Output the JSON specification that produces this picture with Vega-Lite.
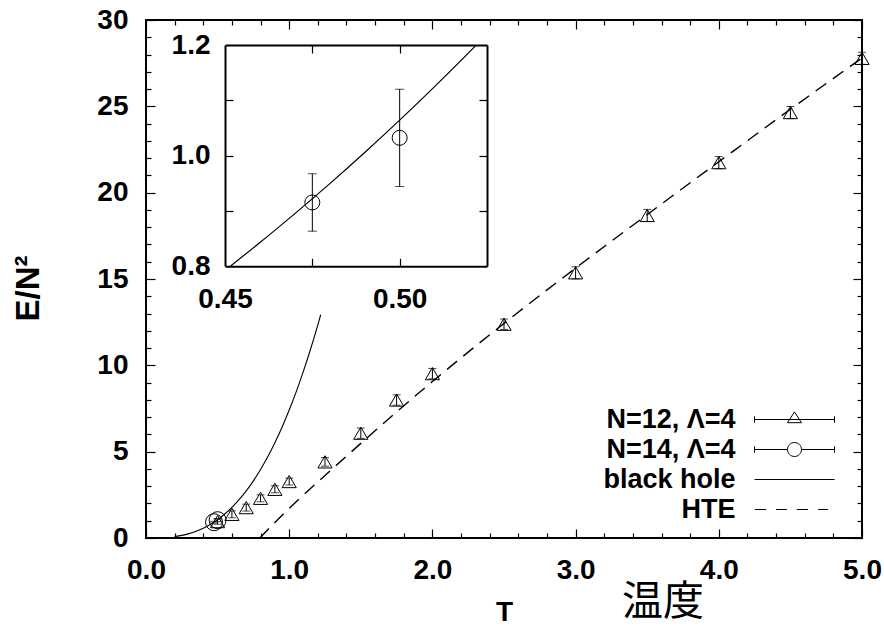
{
  "$schema": "https://vega.github.io/schema/vega-lite/v6.json",
  "width": 716,
  "height": 518,
  "autosize": {"type": "none"},
  "padding": {"left": 146, "top": 20, "right": 22, "bottom": 89},
  "background": "white",
  "config": {
    "view": {"stroke": "black", "strokeWidth": 2},
    "font": "Liberation Sans",
    "axis": {
      "grid": false,
      "labelFont": "Liberation Sans",
      "labelFontWeight": "bold",
      "labelFontSize": 28,
      "labelColor": "black",
      "labelFlush": false,
      "labelOverlap": false,
      "titleFont": "Liberation Sans",
      "titleColor": "black",
      "domainColor": "black",
      "domainWidth": 2,
      "tickColor": "black",
      "tickWidth": 1.2
    }
  },
  "title": {
    "text": "温度",
    "orient": "bottom",
    "anchor": "middle",
    "frame": "group",
    "dx": 159,
    "offset": -44,
    "baseline": "top",
    "font": "Noto Sans CJK JP",
    "fontSize": 41,
    "fontWeight": "normal",
    "color": "black"
  },
  "datasets": {
    "n12": [
      {"T": 0.5, "E": 0.95, "err": 0.15},
      {"T": 0.6, "E": 1.37, "err": 0.2},
      {"T": 0.7, "E": 1.76, "err": 0.2},
      {"T": 0.8, "E": 2.3, "err": 0.2},
      {"T": 0.9, "E": 2.82, "err": 0.2},
      {"T": 1.0, "E": 3.27, "err": 0.2},
      {"T": 1.25, "E": 4.41, "err": 0.25},
      {"T": 1.5, "E": 6.07, "err": 0.3},
      {"T": 1.75, "E": 7.99, "err": 0.3},
      {"T": 2.0, "E": 9.52, "err": 0.3},
      {"T": 2.5, "E": 12.38, "err": 0.3},
      {"T": 3.0, "E": 15.36, "err": 0.35},
      {"T": 3.5, "E": 18.68, "err": 0.35},
      {"T": 4.0, "E": 21.74, "err": 0.35},
      {"T": 4.5, "E": 24.64, "err": 0.35},
      {"T": 5.0, "E": 27.78, "err": 0.35}
    ],
    "n14": [
      {"T": 0.475, "E": 0.915, "err": 0.052},
      {"T": 0.5, "E": 1.032, "err": 0.088}
    ],
    "blackhole": [
      {"T": 0.2, "E": 0.082},
      {"T": 0.25, "E": 0.153},
      {"T": 0.3, "E": 0.255},
      {"T": 0.35, "E": 0.392},
      {"T": 0.4, "E": 0.57},
      {"T": 0.4516, "E": 0.8001},
      {"T": 0.46, "E": 0.8424},
      {"T": 0.47, "E": 0.8948},
      {"T": 0.48, "E": 0.9491},
      {"T": 0.49, "E": 1.0055},
      {"T": 0.5, "E": 1.064},
      {"T": 0.51, "E": 1.1247},
      {"T": 0.52, "E": 1.1875},
      {"T": 0.5219, "E": 1.1998},
      {"T": 0.55, "E": 1.389},
      {"T": 0.6, "E": 1.773},
      {"T": 0.65, "E": 2.218},
      {"T": 0.7, "E": 2.73},
      {"T": 0.75, "E": 3.311},
      {"T": 0.8, "E": 3.967},
      {"T": 0.85, "E": 4.701},
      {"T": 0.9, "E": 5.517},
      {"T": 0.95, "E": 6.419},
      {"T": 1.0, "E": 7.41},
      {"T": 1.05, "E": 8.495},
      {"T": 1.1, "E": 9.676},
      {"T": 1.15, "E": 10.959},
      {"T": 1.2, "E": 12.346},
      {"T": 1.22, "E": 12.931}
    ],
    "hte": [
      {"T": 0.795, "E": 0.0},
      {"T": 0.9, "E": 0.9},
      {"T": 1.0, "E": 1.72},
      {"T": 1.25, "E": 3.62},
      {"T": 1.5, "E": 5.48},
      {"T": 1.75, "E": 7.3},
      {"T": 2.0, "E": 9.06},
      {"T": 2.5, "E": 12.43},
      {"T": 3.0, "E": 15.63},
      {"T": 3.5, "E": 18.73},
      {"T": 4.0, "E": 21.79},
      {"T": 4.5, "E": 24.83},
      {"T": 5.0, "E": 27.8}
    ],
    "series": [
      {"series": "N=12, Λ=4"},
      {"series": "N=14, Λ=4"},
      {"series": "black hole"},
      {"series": "HTE"}
    ]
  },
  "layer": [
    {
      "layer": [
        {
          "data": {"name": "n12"},
          "mark": {"type": "point", "opacity": 0},
          "encoding": {
            "x": {
              "field": "T", "type": "quantitative",
              "scale": {"domain": [0, 5], "nice": false, "zero": false},
              "axis": {
                "orient": "bottom", "values": [0, 1, 2, 3, 4, 5], "format": ".1f",
                "ticks": false, "domain": false,
                "labelPadding": 40, "labelBaseline": "alphabetic",
                "title": "T", "titleFontSize": 28, "titleFontWeight": "bold",
                "titleY": 82.5, "titleBaseline": "alphabetic"
              }
            },
            "y": {
              "field": "E", "type": "quantitative",
              "scale": {"domain": [0, 30], "nice": false, "zero": false},
              "axis": {
                "orient": "left", "values": [0, 5, 10, 15, 20, 25, 30],
                "ticks": false, "domain": false,
                "labelPadding": 18, "labelBaseline": "middle",
                "title": "E/N²", "titleFontSize": 33, "titleFontWeight": "bold",
                "titleAngle": -90, "titleX": -118, "titleY": 268,
                "titleAlign": "center", "titleBaseline": "middle"
              }
            }
          }
        },
        {
          "data": {"name": "n12"},
          "mark": {"type": "point", "opacity": 0},
          "encoding": {
            "x": {
              "field": "T", "type": "quantitative",
              "scale": {"domain": [0, 5], "nice": false, "zero": false},
              "axis": {
                "orient": "bottom",
                "values": [0, 0.2, 0.4, 0.6, 0.8, 1, 1.2, 1.4, 1.6, 1.8, 2, 2.2, 2.4, 2.6, 2.8, 3, 3.2, 3.4, 3.6, 3.8, 4, 4.2, 4.4, 4.6, 4.8, 5],
                "labels": false, "domain": false, "title": null,
                "tickSize": {"condition": {"test": "abs(datum.value - round(datum.value)) < 0.001", "value": -9}, "value": -5}
              }
            },
            "y": {
              "field": "E", "type": "quantitative",
              "scale": {"domain": [0, 30], "nice": false, "zero": false},
              "axis": {
                "orient": "left",
                "values": [0, 1, 2, 3, 4, 5, 6, 7, 8, 9, 10, 11, 12, 13, 14, 15, 16, 17, 18, 19, 20, 21, 22, 23, 24, 25, 26, 27, 28, 29, 30],
                "labels": false, "domain": false, "title": null,
                "tickSize": {"condition": {"test": "datum.value % 5 === 0", "value": -9}, "value": -5}
              }
            }
          }
        },
        {
          "data": {"name": "n12"},
          "mark": {"type": "point", "opacity": 0},
          "encoding": {
            "x": {
              "field": "T", "type": "quantitative",
              "scale": {"domain": [0, 5], "nice": false, "zero": false},
              "axis": {
                "orient": "top",
                "values": [0, 0.2, 0.4, 0.6, 0.8, 1, 1.2, 1.4, 1.6, 1.8, 2, 2.2, 2.4, 2.6, 2.8, 3, 3.2, 3.4, 3.6, 3.8, 4, 4.2, 4.4, 4.6, 4.8, 5],
                "labels": false, "domain": false, "title": null,
                "tickSize": {"condition": {"test": "abs(datum.value - round(datum.value)) < 0.001", "value": -9}, "value": -5}
              }
            },
            "y": {
              "field": "E", "type": "quantitative",
              "scale": {"domain": [0, 30], "nice": false, "zero": false},
              "axis": {
                "orient": "right",
                "values": [0, 1, 2, 3, 4, 5, 6, 7, 8, 9, 10, 11, 12, 13, 14, 15, 16, 17, 18, 19, 20, 21, 22, 23, 24, 25, 26, 27, 28, 29, 30],
                "labels": false, "domain": false, "title": null,
                "tickSize": {"condition": {"test": "datum.value % 5 === 0", "value": -9}, "value": -5}
              }
            }
          }
        },
        {
          "data": {"name": "blackhole"},
          "mark": {"type": "line", "color": "black", "strokeWidth": 1.1, "interpolate": "monotone"},
          "encoding": {
            "x": {"field": "T", "type": "quantitative", "scale": {"domain": [0, 5], "nice": false, "zero": false}, "axis": null},
            "y": {"field": "E", "type": "quantitative", "scale": {"domain": [0, 30], "nice": false, "zero": false}, "axis": null}
          }
        },
        {
          "data": {"name": "hte"},
          "mark": {"type": "line", "color": "black", "strokeWidth": 1.4, "strokeDash": [13, 8], "interpolate": "monotone"},
          "encoding": {
            "x": {"field": "T", "type": "quantitative", "scale": {"domain": [0, 5], "nice": false, "zero": false}, "axis": null},
            "y": {"field": "E", "type": "quantitative", "scale": {"domain": [0, 30], "nice": false, "zero": false}, "axis": null}
          }
        },
        {
          "data": {"name": "n12"},
          "mark": {"type": "errorbar", "ticks": true, "size": 8, "thickness": 1, "color": "black"},
          "encoding": {
            "x": {"field": "T", "type": "quantitative", "scale": {"domain": [0, 5], "nice": false, "zero": false}, "axis": null},
            "y": {"field": "E", "type": "quantitative", "scale": {"domain": [0, 30], "nice": false, "zero": false}, "axis": null},
            "yError": {"field": "err"}
          }
        },
        {
          "data": {"name": "n12"},
          "mark": {"type": "point", "shape": "triangle-up", "filled": false, "color": "black", "strokeWidth": 1, "size": 200, "opacity": 1},
          "encoding": {
            "x": {"field": "T", "type": "quantitative", "scale": {"domain": [0, 5], "nice": false, "zero": false}, "axis": null},
            "y": {"field": "E", "type": "quantitative", "scale": {"domain": [0, 30], "nice": false, "zero": false}, "axis": null}
          }
        },
        {
          "data": {"name": "n14"},
          "mark": {"type": "errorbar", "ticks": true, "size": 8, "thickness": 1, "color": "black"},
          "encoding": {
            "x": {"field": "T", "type": "quantitative", "scale": {"domain": [0, 5], "nice": false, "zero": false}, "axis": null},
            "y": {"field": "E", "type": "quantitative", "scale": {"domain": [0, 30], "nice": false, "zero": false}, "axis": null},
            "yError": {"field": "err"}
          }
        },
        {
          "data": {"name": "n14"},
          "mark": {"type": "point", "shape": "circle", "filled": false, "color": "black", "strokeWidth": 1, "size": 289, "opacity": 1},
          "encoding": {
            "x": {"field": "T", "type": "quantitative", "scale": {"domain": [0, 5], "nice": false, "zero": false}, "axis": null},
            "y": {"field": "E", "type": "quantitative", "scale": {"domain": [0, 30], "nice": false, "zero": false}, "axis": null}
          }
        },
        {
          "data": {"name": "series"},
          "transform": [{"filter": "false"}],
          "mark": {"type": "point", "filled": false, "color": "black", "strokeWidth": 1, "opacity": 1},
          "encoding": {
            "shape": {
              "field": "series", "type": "nominal",
              "scale": {
                "domain": ["N=12, Λ=4", "N=14, Λ=4", "black hole", "HTE"],
                "range": [
                  "M-4,0H4M-4,-0.32V0.32M4,-0.32V0.32M0,-0.76L0.7,0.32L-0.7,0.32Z",
                  "M-4,0H-0.7M0.7,0H4M-4,-0.32V0.32M4,-0.32V0.32M-0.7,0A0.7,0.7,0,1,1,0.7,0A0.7,0.7,0,1,1,-0.7,0Z",
                  "M-4,0H4",
                  "M-3.96,0H-2.84M-1.84,0H-0.76M0.24,0H1.36M2.36,0H3.36"
                ]
              },
              "legend": {
                "orient": "none", "legendX": 635, "legendY": 386,
                "title": null, "padding": 0, "rowPadding": 2,
                "symbolSize": 400, "symbolStrokeWidth": 1, "symbolStrokeColor": "black",
                "symbolFillColor": "transparent", "symbolOpacity": 1,
                "labelAlign": "right", "labelOffset": -72.5, "labelLimit": 400,
                "labelFont": "Liberation Sans", "labelFontWeight": "bold", "labelFontSize": 27, "labelColor": "black"
              }
            }
          }
        }
      ],
      "resolve": {"axis": {"x": "independent", "y": "independent"}}
    },
    {
      "layer": [
        {
          "data": {"name": "n14"},
          "mark": {"type": "point", "opacity": 0},
          "encoding": {
            "x": {
              "field": "T", "type": "quantitative",
              "scale": {"domain": [0.45, 0.525], "range": [79, 341], "nice": false, "zero": false},
              "axis": {
                "orient": "bottom", "offset": -271.7, "values": [0.45, 0.5], "format": ".2f",
                "ticks": false, "domain": true, "title": null,
                "labelPadding": 41, "labelBaseline": "alphabetic"
              }
            },
            "y": {
              "field": "E", "type": "quantitative",
              "scale": {"domain": [0.8, 1.2], "range": [246, 25], "nice": false, "zero": false},
              "axis": {
                "orient": "left", "offset": -79, "values": [0.8, 1.0, 1.2], "format": ".1f",
                "ticks": false, "domain": true, "title": null,
                "labelPadding": 15, "labelBaseline": "middle"
              }
            }
          }
        },
        {
          "data": {"name": "n14"},
          "mark": {"type": "point", "opacity": 0},
          "encoding": {
            "x": {
              "field": "T", "type": "quantitative",
              "scale": {"domain": [0.45, 0.525], "range": [79, 341], "nice": false, "zero": false},
              "axis": {
                "orient": "bottom", "offset": -271.7, "values": [0.475, 0.5],
                "labels": false, "domain": false, "title": null, "tickSize": -8
              }
            },
            "y": {
              "field": "E", "type": "quantitative",
              "scale": {"domain": [0.8, 1.2], "range": [246, 25], "nice": false, "zero": false},
              "axis": {
                "orient": "left", "offset": -79, "values": [0.9, 1.0, 1.1],
                "labels": false, "domain": false, "title": null, "tickSize": -8
              }
            }
          }
        },
        {
          "data": {"name": "n14"},
          "mark": {"type": "point", "opacity": 0},
          "encoding": {
            "x": {
              "field": "T", "type": "quantitative",
              "scale": {"domain": [0.45, 0.525], "range": [79, 341], "nice": false, "zero": false},
              "axis": {
                "orient": "top", "offset": -25, "values": [0.475, 0.5],
                "labels": false, "domain": true, "title": null, "tickSize": -8
              }
            },
            "y": {
              "field": "E", "type": "quantitative",
              "scale": {"domain": [0.8, 1.2], "range": [246, 25], "nice": false, "zero": false},
              "axis": {
                "orient": "right", "offset": -375, "values": [0.9, 1.0, 1.1],
                "labels": false, "domain": true, "title": null, "tickSize": -8
              }
            }
          }
        },
        {
          "data": {"name": "blackhole"},
          "transform": [{"filter": "datum.T >= 0.45 && datum.T <= 0.5225"}],
          "mark": {"type": "line", "color": "black", "strokeWidth": 1.2, "interpolate": "monotone"},
          "encoding": {
            "x": {"field": "T", "type": "quantitative", "scale": {"domain": [0.45, 0.525], "range": [79, 341], "nice": false, "zero": false}, "axis": null},
            "y": {"field": "E", "type": "quantitative", "scale": {"domain": [0.8, 1.2], "range": [246, 25], "nice": false, "zero": false}, "axis": null}
          }
        },
        {
          "data": {"name": "n14"},
          "mark": {"type": "errorbar", "ticks": true, "size": 9, "thickness": 1, "color": "black"},
          "encoding": {
            "x": {"field": "T", "type": "quantitative", "scale": {"domain": [0.45, 0.525], "range": [79, 341], "nice": false, "zero": false}, "axis": null},
            "y": {"field": "E", "type": "quantitative", "scale": {"domain": [0.8, 1.2], "range": [246, 25], "nice": false, "zero": false}, "axis": null},
            "yError": {"field": "err"}
          }
        },
        {
          "data": {"name": "n14"},
          "mark": {"type": "point", "shape": "circle", "filled": false, "color": "black", "strokeWidth": 1, "size": 225, "opacity": 1},
          "encoding": {
            "x": {"field": "T", "type": "quantitative", "scale": {"domain": [0.45, 0.525], "range": [79, 341], "nice": false, "zero": false}, "axis": null},
            "y": {"field": "E", "type": "quantitative", "scale": {"domain": [0.8, 1.2], "range": [246, 25], "nice": false, "zero": false}, "axis": null}
          }
        }
      ],
      "resolve": {"axis": {"x": "independent", "y": "independent"}}
    }
  ],
  "resolve": {
    "scale": {"x": "independent", "y": "independent"},
    "axis": {"x": "independent", "y": "independent"}
  }
}
